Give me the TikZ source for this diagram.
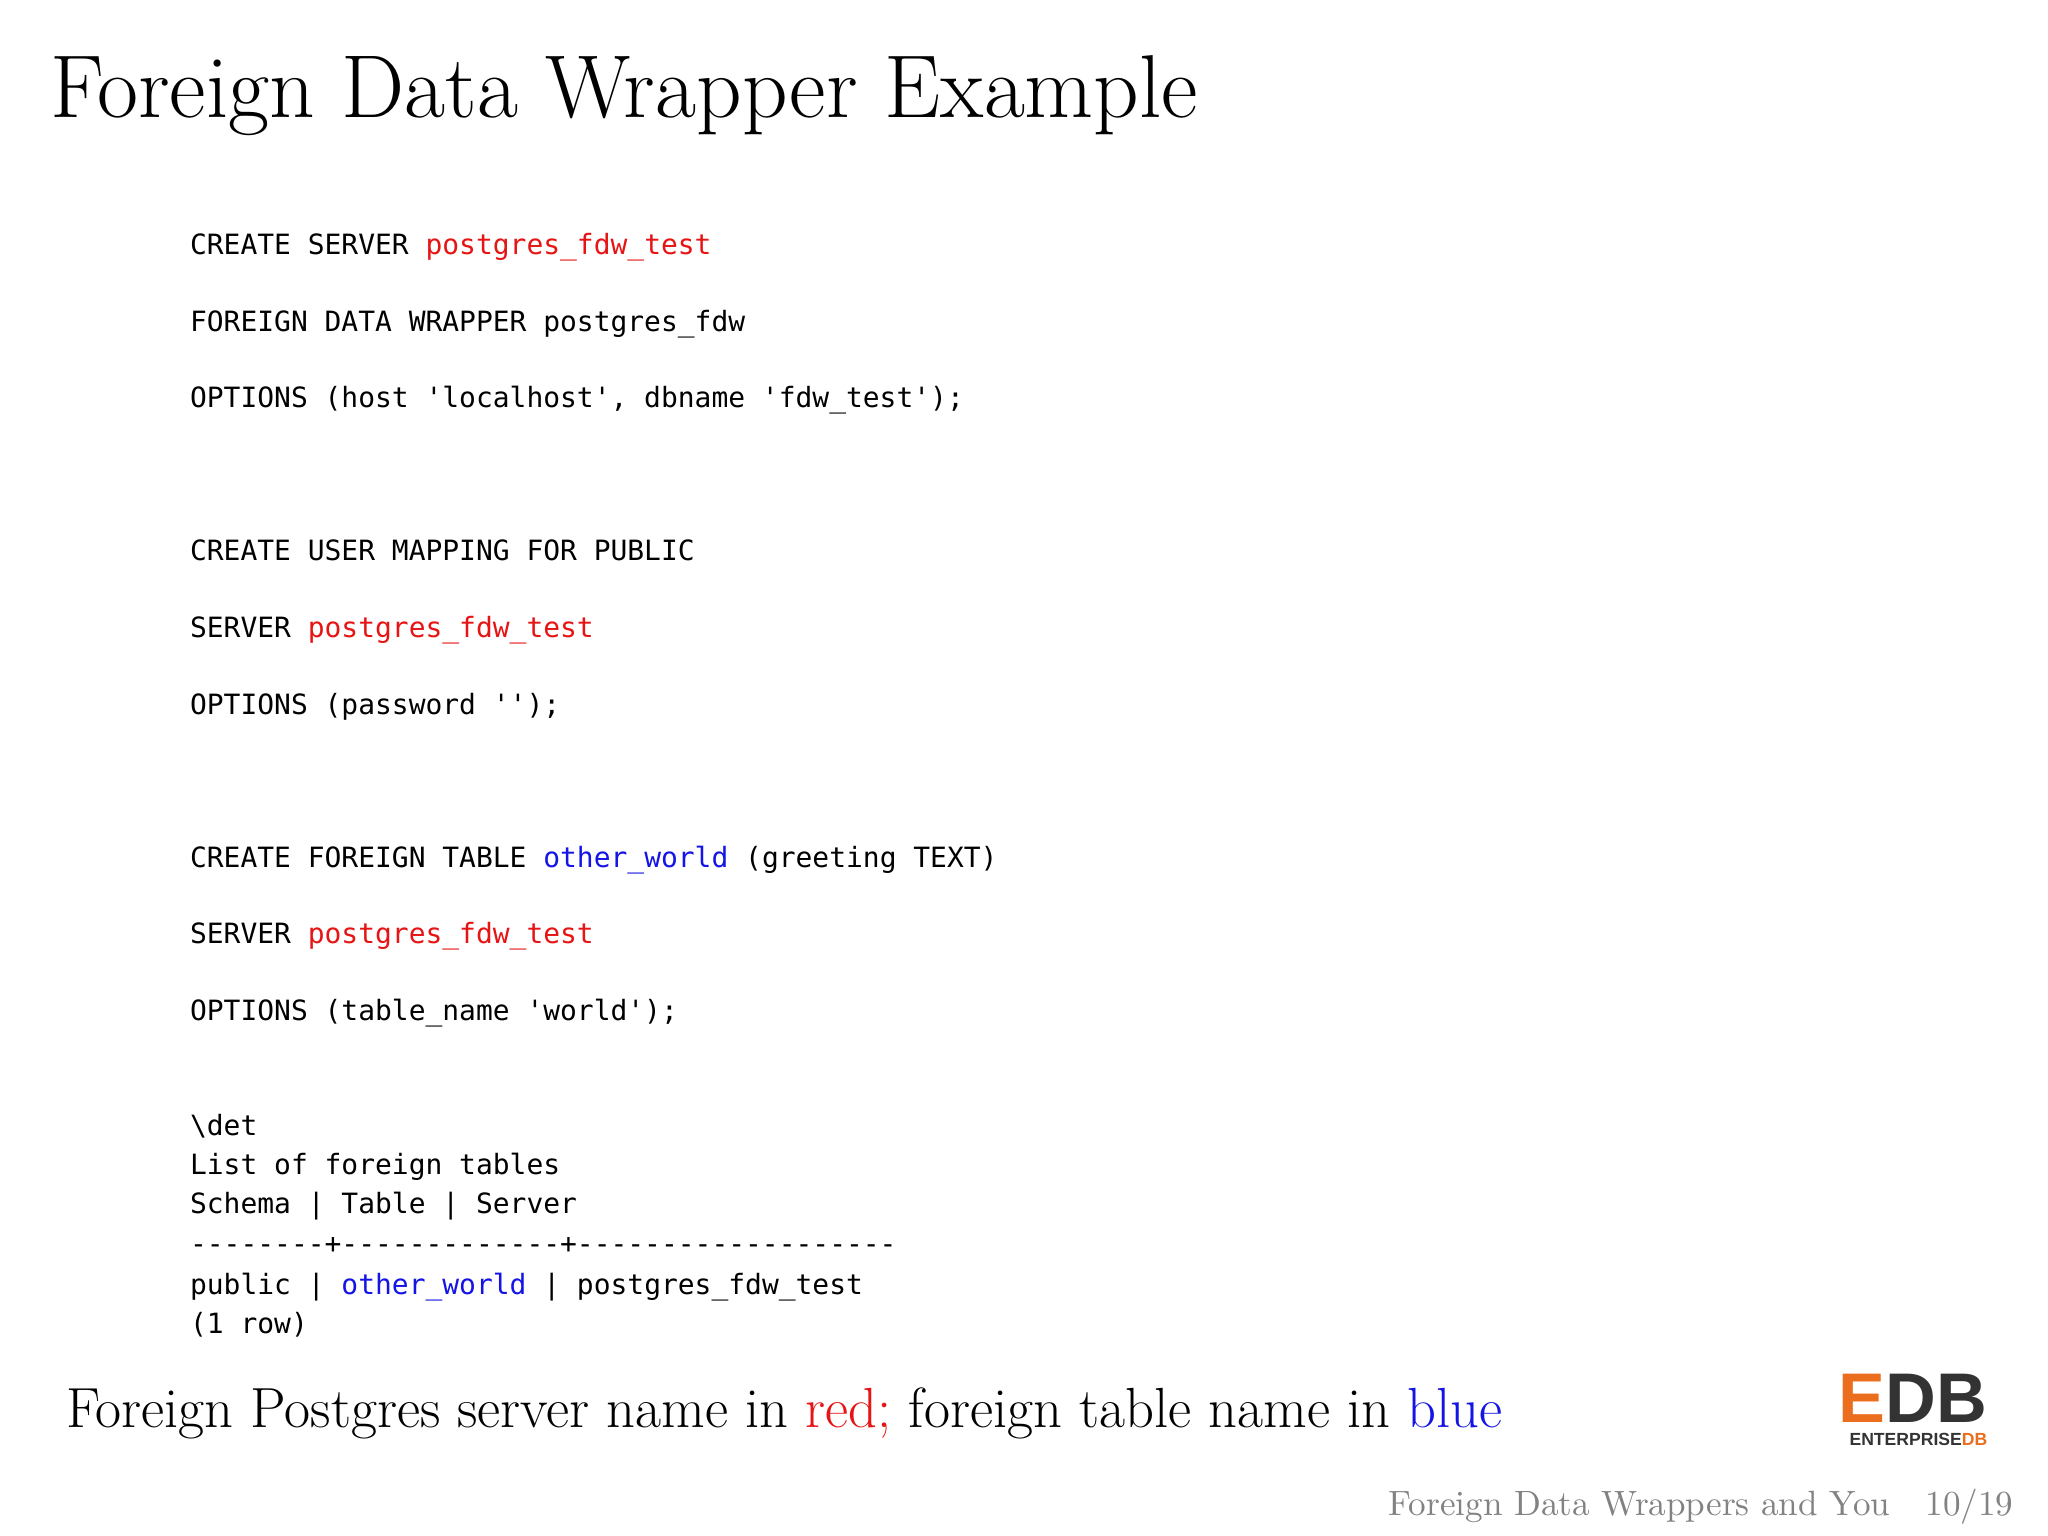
\documentclass[tikz,border=0pt]{standalone}
\usepackage{fontspec}
\setmonofont{DejaVu Sans Mono}
\newfontfamily\logofont{Liberation Sans}
\usetikzlibrary{positioning}
\definecolor{srvred}{RGB}{230,20,20}
\definecolor{tblblue}{RGB}{20,20,230}
\definecolor{footgray}{RGB}{130,130,130}
\definecolor{edborange}{RGB}{235,110,30}
\newcommand{\srv}[1]{\textcolor{srvred}{#1}}
\newcommand{\tbl}[1]{\textcolor{tblblue}{#1}}
\tikzset{
  code/.style={anchor=base west, inner sep=0pt, font=\ttfamily\fontsize{7.95}{10}\selectfont},
  title/.style={anchor=base west, inner sep=0pt, font=\fontsize{25.4}{30}\selectfont},
}
\begin{document}
\begin{tikzpicture}[x=0.01306cm, y=-0.01306cm]
    \useasboundingbox (0,0) rectangle (1568,1176);
    %title
    \node[title] (ttl) at (38,90) {Foreign Data Wrapper Example};
    %server
    \node[code] (c1) at (145,195) {CREATE SERVER \srv{postgres\_fdw\_test}};
    \node[code] (c2) at (145,254) {FOREIGN DATA WRAPPER postgres\_fdw};
    \node[code] (c3) at (145,312) {OPTIONS (host 'localhost', dbname 'fdw\_test');};
    %user mapping
    \node[code] (c4) at (145,429) {CREATE USER MAPPING FOR PUBLIC};
    \node[code] (c5) at (145,488) {SERVER \srv{postgres\_fdw\_test}};
    \node[code] (c6) at (145,547) {OPTIONS (password '');};
    %foreign table
    \node[code] (c7) at (145,664) {CREATE FOREIGN TABLE \tbl{other\_world} (greeting TEXT)};
    \node[code] (c8) at (145,722) {SERVER \srv{postgres\_fdw\_test}};
    \node[code] (c9) at (145,781) {OPTIONS (table\_name 'world');};
    %listing
    \node[code] (d1) at (145,869) {\textbackslash det};
    \node[code] (d2) at (145,899) {List of foreign tables};
    \node[code] (d3) at (145,929) {Schema | Table | Server};
    \node[code] (d4) at (145,960) {--------+-------------+-------------------};
    \node[code] (d5) at (145,991) {public | \tbl{other\_world} | postgres\_fdw\_test};
    \node[code] (d6) at (145,1021) {(1 row)};
    %note
    \node[anchor=base west, inner sep=0pt, font=\fontsize{16.1}{20}\selectfont] (note) at (50,1093)
        {Foreign Postgres server name in \srv{red;} foreign table name in \tbl{blue}};
    %logo
    \node[anchor=base east, inner sep=0pt, font=\logofont\bfseries\fontsize{20}{22}\selectfont] (logo) at (1522,1089)
        {\textcolor{edborange}{E}\textcolor{black!80}{DB}};
    \node[anchor=north east, inner sep=0pt, font=\logofont\bfseries\fontsize{5}{6}\selectfont] (ent) at (1522,1097)
        {\textcolor{black!80}{ENTERPRISE}\textcolor{edborange}{DB}};
    %footer
    \node[anchor=base east, inner sep=0pt, font=\fontsize{10}{12}\selectfont, text=footgray] (foot) at (1542,1160)
        {Foreign Data Wrappers and You\quad 10/19};
\end{tikzpicture}
\end{document}
